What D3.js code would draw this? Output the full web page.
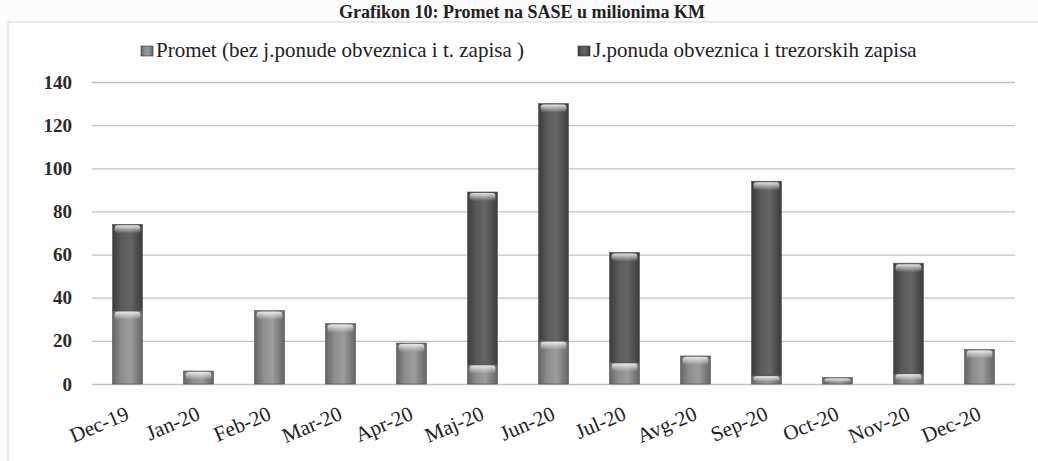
<!DOCTYPE html>
<html lang="sr">
<head>
<meta charset="UTF-8">
<title>Grafikon 10</title>
<style>
  body { margin: 0; background: #fcfcfc; }
  text { font-family: "Liberation Serif", "DejaVu Serif", serif; }
</style>
</head>
<body>
<script src="https://cdn.jsdelivr.net/npm/d3@7/dist/d3.min.js"></script>
<script>
// podaci, u milionima KM
var months = ["Dec-19","Jan-20","Feb-20","Mar-20","Apr-20","Maj-20","Jun-20","Jul-20","Avg-20","Sep-20","Oct-20","Nov-20","Dec-20"];
var promet = [34, 6, 34, 28, 19, 9, 20, 10, 13, 4, 3, 5, 16];
var ponuda = [40, 0, 0, 0, 0, 80, 110, 51, 0, 90, 0, 51, 0];
var seriesNames = ["Promet (bez j.ponude obveznica i t. zapisa )", "J.ponuda obveznica i trezorskih zapisa"];
var yTicks = [0, 20, 40, 60, 80, 100, 120, 140];

var width = 1038, height = 461;
var margin = {top: 82, right: 23, bottom: 77, left: 92};

var svg = d3.select("body").append("svg")
  .attr("width", width)
  .attr("height", height);

// okvir
svg.append("rect")
  .attr("x", 8).attr("y", 22)
  .attr("width", width + 10).attr("height", height)
  .attr("fill", "#fefefe")
  .attr("stroke", "#d4d4d4");

svg.append("text")
  .attr("x", 522).attr("y", 18)
  .attr("text-anchor", "middle")
  .attr("font-size", "18px")
  .attr("font-weight", "bold")
  .attr("fill", "#222")
  .text("Grafikon 10: Promet na SASE u milionima KM");

var defs = svg.append("defs");
function cyl(id, dark, mid, light) {
  var g = defs.append("linearGradient").attr("id", id)
    .attr("x1", "0%").attr("x2", "100%").attr("y1", "0%").attr("y2", "0%");
  g.append("stop").attr("offset", "0%").attr("stop-color", dark);
  g.append("stop").attr("offset", "30%").attr("stop-color", mid);
  g.append("stop").attr("offset", "60%").attr("stop-color", light);
  g.append("stop").attr("offset", "100%").attr("stop-color", dark);
}
cyl("gPromet", "#656565", "#8e8e8e", "#9c9c9c");
cyl("gPonuda", "#3c3c3c", "#5a5a5a", "#666666");
var fills = ["url(#gPromet)", "url(#gPonuda)"];

var cap = defs.append("linearGradient").attr("id", "gCap")
  .attr("x1", "0%").attr("x2", "0%").attr("y1", "0%").attr("y2", "100%");
cap.append("stop").attr("offset", "0%").attr("stop-color", "#f2f2f2").attr("stop-opacity", 0.9);
cap.append("stop").attr("offset", "100%").attr("stop-color", "#f2f2f2").attr("stop-opacity", 0);

var x = d3.scaleBand()
  .domain(months)
  .range([margin.left, width - margin.right])
  .paddingInner(0.58)
  .paddingOuter(0.29);

var y = d3.scaleLinear()
  .domain([0, 140])
  .range([height - margin.bottom, margin.top]);

// mreža
var yAxis = d3.axisLeft(y)
  .tickValues(yTicks)
  .tickSize(-(width - margin.right - margin.left))
  .tickPadding(20);

var gy = svg.append("g")
  .attr("transform", "translate(" + margin.left + ",0)")
  .call(yAxis);
gy.select(".domain").remove();
gy.selectAll(".tick line").attr("stroke", "#c2c2c2").attr("stroke-width", 1.3);
gy.selectAll(".tick text")
  .attr("font-family", "Liberation Serif, serif")
  .attr("font-size", "19px")
  .attr("font-weight", "bold")
  .attr("fill", "#2a2a2a");

// složeni stubovi
var rows = months.map(function(m, i) {
  return {month: m, promet: promet[i], ponuda: ponuda[i]};
});
var stacked = d3.stack().keys(["promet", "ponuda"])(rows);

var layers = svg.selectAll("g.layer")
  .data(stacked)
  .enter().append("g")
  .attr("class", "layer")
  .attr("fill", function(d, i) { return fills[i]; });

function nonEmpty(d) { return d.filter(function(v) { return v[1] > v[0]; }); }

layers.selectAll("rect.seg")
  .data(nonEmpty)
  .enter().append("rect")
  .attr("class", "seg")
  .attr("x", function(d) { return x(d.data.month); })
  .attr("y", function(d) { return y(d[1]); })
  .attr("width", x.bandwidth())
  .attr("height", function(d) { return y(d[0]) - y(d[1]); })
  .attr("stroke", "#4a4a4a")
  .attr("stroke-width", 0.6);

// svijetli vrh svakog segmenta
layers.selectAll("rect.cap")
  .data(nonEmpty)
  .enter().append("rect")
  .attr("class", "cap")
  .attr("x", function(d) { return x(d.data.month) + 2; })
  .attr("y", function(d) { return y(d[1]) + 1; })
  .attr("width", x.bandwidth() - 4)
  .attr("height", function(d) { return Math.min(8, (y(d[0]) - y(d[1])) * 0.6); })
  .attr("rx", 3)
  .attr("fill", "url(#gCap)");

// x oznake
var gx = svg.append("g")
  .attr("transform", "translate(0," + (height - margin.bottom) + ")")
  .call(d3.axisBottom(x).tickSize(0).tickPadding(0));
gx.select(".domain").remove();
gx.selectAll(".tick text")
  .attr("font-family", "Liberation Serif, serif")
  .attr("font-size", "21px")
  .attr("fill", "#222")
  .attr("text-anchor", "end")
  .attr("transform", "translate(0,28) rotate(-23)")
  .attr("dy", "0.35em");

// legenda
var legend = svg.append("g");
var legX = [141, 578];
seriesNames.forEach(function(name, i) {
  legend.append("rect")
    .attr("x", legX[i]).attr("y", 46)
    .attr("width", 12).attr("height", 10)
    .attr("fill", fills[i])
    .attr("stroke", "#333").attr("stroke-width", 0.6);
  legend.append("text")
    .attr("x", legX[i] + 15).attr("y", 57)
    .attr("font-size", "21px")
    .attr("fill", "#222")
    .text(name);
});
</script>
</body>
</html>
